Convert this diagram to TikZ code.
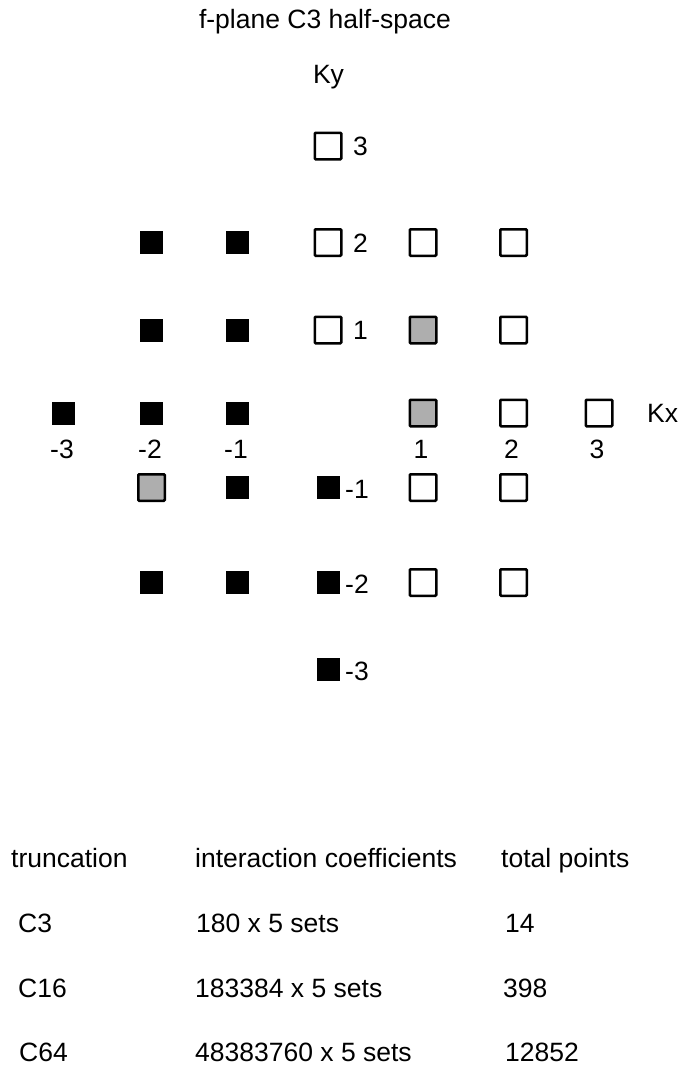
\documentclass[tikz,border=0pt]{standalone}
\usepackage{fontspec}
\setmainfont{Liberation Sans}
\definecolor{cellgrey}{RGB}{174,174,174}
\begin{document}
\begin{tikzpicture}[x=1pt,y=-1pt,
  every node/.style={font=\fontsize{26.5}{30}\selectfont},
  opencell/.style={draw, line width=2.5pt, fill=white, minimum size=26.5pt, inner sep=0pt, rounded corners=1pt},
  greycell/.style={opencell, fill=cellgrey},
  blackcell/.style={fill=black, minimum size=23pt, inner sep=0pt},
  rowlbl/.style={anchor=base west, inner sep=0pt},
  ticklbl/.style={anchor=base, inner sep=0pt},
  txt/.style={anchor=base west, inner sep=0pt}]
\useasboundingbox (0,0) rectangle (682,1066);

% column positions (Kx) and row positions (Ky)
\def\cA{63.5}\def\cB{151.5}\def\cC{237.5}\def\cD{328}\def\cE{423}\def\cF{513.5}\def\cG{599}
\def\rA{146}\def\rB{242.5}\def\rC{330}\def\rD{413}\def\rE{487.5}\def\rF{582.5}\def\rG{669.5}

% title and axis names
\node[anchor=base, inner sep=0pt] (title) at (325,28) {f-plane C3 half-space};
\node[anchor=base, inner sep=0pt] (ky) at (328.5,83.5) {Ky};
\node[txt] (kx) at (647,422) {Kx};

% Ky = 3
\node[opencell] (p03) at (\cD,\rA) {};
\node[rowlbl] (l3) at (353,\rA+9.5) {3};

% Ky = 2
\node[blackcell] (m22) at (\cB,\rB) {};
\node[blackcell] (m12) at (\cC,\rB) {};
\node[opencell] (p02) at (\cD,\rB) {};
\node[opencell] (p12) at (\cE,\rB) {};
\node[opencell] (p22) at (\cF,\rB) {};
\node[rowlbl] (l2) at (353,\rB+9.5) {2};

% Ky = 1
\node[blackcell] (m21) at (\cB,\rC) {};
\node[blackcell] (m11) at (\cC,\rC) {};
\node[opencell] (p01) at (\cD,\rC) {};
\node[greycell] (p11) at (\cE,\rC) {};
\node[opencell] (p21) at (\cF,\rC) {};
\node[rowlbl] (l1) at (353,\rC+9.5) {1};

% Ky = 0
\node[blackcell] (m30) at (\cA,\rD) {};
\node[blackcell] (m20) at (\cB,\rD) {};
\node[blackcell] (m10) at (\cC,\rD) {};
\node[greycell] (p10) at (\cE,\rD) {};
\node[opencell] (p20) at (\cF,\rD) {};
\node[opencell] (p30) at (\cG,\rD) {};

% Kx tick labels
\node[ticklbl] (tA) at (\cA-1.5,458) {-3};
\node[ticklbl] (tB) at (\cB-1.5,458) {-2};
\node[ticklbl] (tC) at (\cC-1.5,458) {-1};
\node[ticklbl] (tE) at (\cE-2,458) {1};
\node[ticklbl] (tF) at (\cF-2,458) {2};
\node[ticklbl] (tG) at (\cG-2,458) {3};

% Ky = -1
\node[greycell] (m2m1) at (\cB,\rE) {};
\node[blackcell] (m1m1) at (\cC,\rE) {};
\node[blackcell] (p0m1) at (\cD,\rE) {};
\node[opencell] (p1m1) at (\cE,\rE) {};
\node[opencell] (p2m1) at (\cF,\rE) {};
\node[rowlbl] (lm1) at (345,\rE+10.5) {-1};

% Ky = -2
\node[blackcell] (m2m2) at (\cB,\rF) {};
\node[blackcell] (m1m2) at (\cC,\rF) {};
\node[blackcell] (p0m2) at (\cD,\rF) {};
\node[opencell] (p1m2) at (\cE,\rF) {};
\node[opencell] (p2m2) at (\cF,\rF) {};
\node[rowlbl] (lm2) at (345,\rF+10.5) {-2};

% Ky = -3
\node[blackcell] (p0m3) at (\cD,\rG) {};
\node[rowlbl] (lm3) at (345,\rG+10.5) {-3};

% table of truncations
\node[txt] (h1) at (11,867) {truncation};
\node[txt] (h2) at (195,867) {interaction coefficients};
\node[txt] (h3) at (501,867) {total points};

\node[txt] (a1) at (18,932) {C3};
\node[txt] (a2) at (196,932) {180 x 5 sets};
\node[txt] (a3) at (505,932) {14};

\node[txt] (b1) at (18,997) {C16};
\node[txt] (b2) at (195,997) {183384 x 5 sets};
\node[txt] (b3) at (503,997) {398};

\node[txt] (c1) at (19,1061) {C64};
\node[txt] (c2) at (195,1061) {48383760 x 5 sets};
\node[txt] (c3) at (505,1061) {12852};
\end{tikzpicture}
\end{document}
